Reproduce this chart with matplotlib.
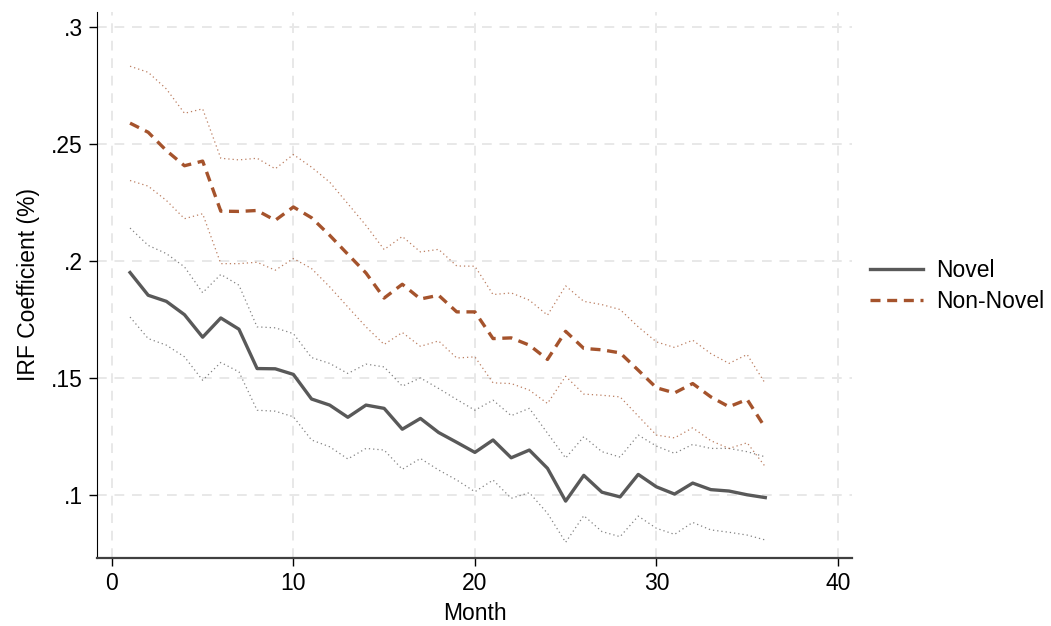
import numpy as np
import matplotlib
matplotlib.use("Agg")
import matplotlib.pyplot as plt

plt.rcParams["font.family"] = ["Liberation Sans", "DejaVu Sans"]

months = list(range(1, 37))

novel = [0.195, 0.1853, 0.1827, 0.177, 0.1674, 0.1756, 0.1708, 0.154, 0.1539, 0.1515,
         0.141, 0.1384, 0.1332, 0.1384, 0.137, 0.1281, 0.1327, 0.1267, 0.1225, 0.1182,
         0.1235, 0.1159, 0.1192, 0.1114, 0.0974, 0.1084, 0.1012, 0.0992, 0.1088, 0.1035,
         0.1004, 0.1051, 0.1023, 0.1017, 0.1001, 0.0989]
novel_hi = [0.214, 0.2066, 0.2031, 0.1974, 0.1864, 0.1942, 0.1896, 0.1718, 0.1714, 0.1689,
            0.1587, 0.1562, 0.1519, 0.1559, 0.1547, 0.1465, 0.15, 0.1455, 0.1408, 0.1362,
            0.1405, 0.1339, 0.137, 0.1264, 0.1158, 0.1249, 0.1185, 0.1162, 0.1256, 0.1209,
            0.1178, 0.1216, 0.1199, 0.1199, 0.1185, 0.1163]
novel_lo = [0.176, 0.1668, 0.164, 0.159, 0.149, 0.1566, 0.1526, 0.1362, 0.1358, 0.1334,
            0.1235, 0.1206, 0.1154, 0.1199, 0.1192, 0.111, 0.1156, 0.1107, 0.1064, 0.1014,
            0.1064, 0.0986, 0.101, 0.0922, 0.0798, 0.0912, 0.0844, 0.0822, 0.091, 0.0858,
            0.0832, 0.0883, 0.0851, 0.0841, 0.0829, 0.0808]

nonnovel = [0.2588, 0.2549, 0.2471, 0.2406, 0.2426, 0.2212, 0.2211, 0.2215, 0.2173, 0.223,
            0.2184, 0.2109, 0.2028, 0.1948, 0.1841, 0.19, 0.1837, 0.1853, 0.1782, 0.1782,
            0.1668, 0.1671, 0.164, 0.1579, 0.1699, 0.1626, 0.162, 0.1607, 0.1533, 0.1458,
            0.1436, 0.1476, 0.1419, 0.1377, 0.1408, 0.1287]
nonnovel_hi = [0.2831, 0.2805, 0.2734, 0.263, 0.2649, 0.2438, 0.2431, 0.2438, 0.2393, 0.2454,
               0.24, 0.2336, 0.2244, 0.2151, 0.2048, 0.2104, 0.2038, 0.2049, 0.1978, 0.1977,
               0.1856, 0.1863, 0.1832, 0.1768, 0.1893, 0.1827, 0.1813, 0.1792, 0.1718, 0.1654,
               0.163, 0.1661, 0.1604, 0.1562, 0.16, 0.1476]
nonnovel_lo = [0.2343, 0.2319, 0.2258, 0.218, 0.2201, 0.1988, 0.1988, 0.1994, 0.196, 0.201,
               0.1967, 0.1889, 0.1803, 0.1718, 0.1643, 0.1694, 0.1635, 0.1658, 0.1585, 0.159,
               0.1479, 0.1476, 0.1448, 0.1391, 0.1507, 0.1431, 0.1426, 0.1419, 0.1337, 0.1256,
               0.1244, 0.1287, 0.1232, 0.1199, 0.1223, 0.1121]

x_ticks = [0, 10, 20, 30, 40]
y_ticks = [0.1, 0.15, 0.2, 0.25, 0.3]
y_tick_labels = [".1", ".15", ".2", ".25", ".3"]

gray = "#595959"
brown = "#A5532C"
fs = 16.5

fig = plt.figure(figsize=(10.51, 6.26), dpi=100)
ax = fig.add_axes([0.0923, 0.1086, 0.7184, 0.8724])

ax.grid(True, color="#e8e8e8", linestyle=(0, (5, 4)), linewidth=1.4)
ax.set_axisbelow(True)

# confidence bands (dotted)
dots = (0, (1, 2.4))
ax.plot(months, novel_hi, color=gray, lw=0.9, ls=dots, alpha=0.75)
ax.plot(months, novel_lo, color=gray, lw=0.9, ls=dots, alpha=0.75)
ax.plot(months, nonnovel_hi, color=brown, lw=0.9, ls=dots, alpha=0.75)
ax.plot(months, nonnovel_lo, color=brown, lw=0.9, ls=dots, alpha=0.75)
ax.plot(months, novel, color=gray, lw=2.4, label="Novel")
ax.plot(months, nonnovel, color=brown, lw=2.4, ls=(0, (3, 2)), label="Non-Novel")

ax.set_xlim(-0.82, 40.78)
ax.set_ylim(0.0731, 0.3063)
ax.set_xticks(x_ticks)
ax.set_yticks(y_ticks)
ax.set_yticklabels(y_tick_labels)
ax.tick_params(labelsize=fs, length=6, width=1, colors="black", pad=4)
ax.set_xlabel("Month", fontsize=fs, labelpad=5)
ax.set_ylabel("IRF Coefficient (%)", fontsize=fs, labelpad=8)

for side in ["top", "right"]:
    ax.spines[side].set_visible(False)
ax.spines["left"].set_color("black")
ax.spines["bottom"].set_color("#404040")
ax.spines["bottom"].set_linewidth(1.6)

fig.legend(*ax.get_legend_handles_labels(), loc="center left",
           bbox_to_anchor=(870 / 1051, 1 - 286 / 626), bbox_transform=fig.transFigure,
           frameon=False, fontsize=fs, handlelength=2.3, handletextpad=0.6,
           labelspacing=0.35, borderpad=0, borderaxespad=0)

fig.savefig("out.png", dpi=100)
